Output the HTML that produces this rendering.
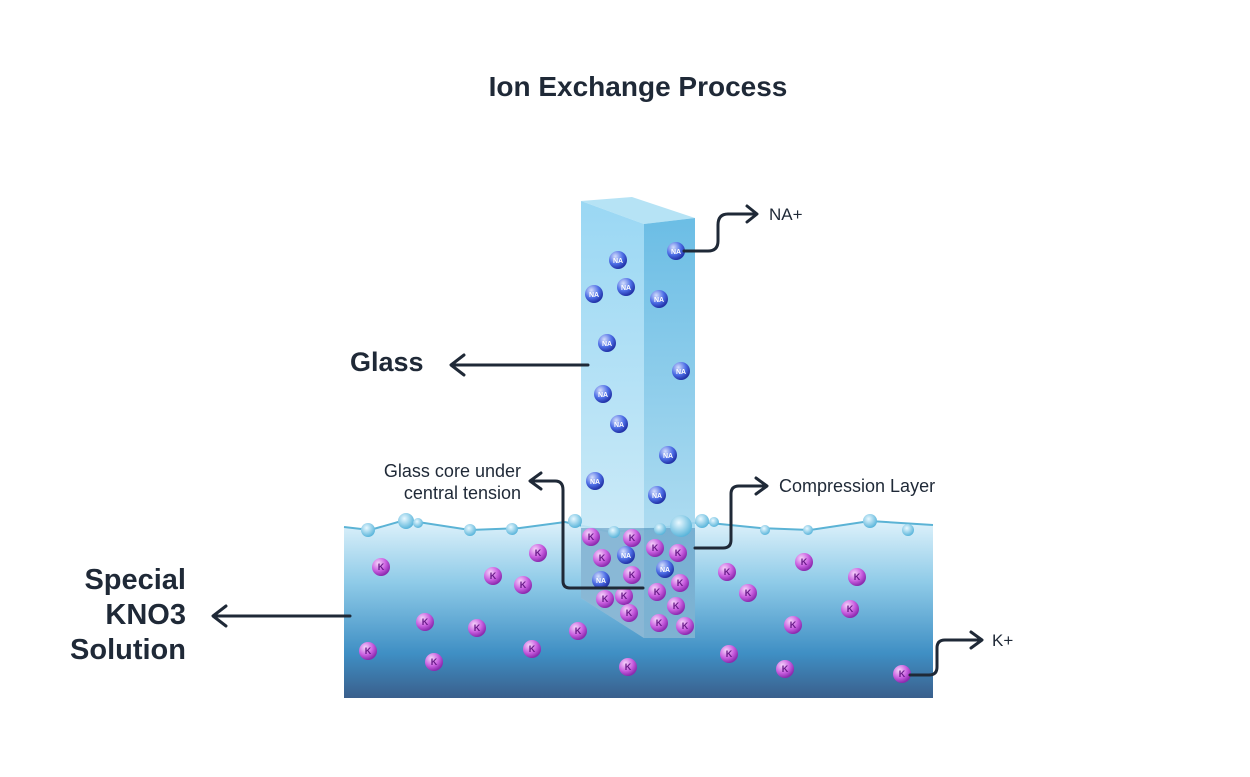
<!DOCTYPE html>
<html><head><meta charset="utf-8"><style>
html,body{margin:0;padding:0;background:#fff;}
body{width:1250px;height:772px;overflow:hidden;font-family:"Liberation Sans",sans-serif;}
</style></head><body>
<svg width="1250" height="772" viewBox="0 0 1250 772" xmlns="http://www.w3.org/2000/svg">
<defs>
<linearGradient id="liq" x1="0" y1="0" x2="0" y2="1">
<stop offset="0" stop-color="#dff2fb"/><stop offset="0.35" stop-color="#8fcbe8"/><stop offset="0.75" stop-color="#3f8fc4"/><stop offset="1" stop-color="#3a5f8c"/></linearGradient>
<linearGradient id="front" x1="0" y1="0" x2="0" y2="1">
<stop offset="0" stop-color="#8fd3f2"/><stop offset="1" stop-color="#d6eef8"/></linearGradient>
<linearGradient id="side" x1="0" y1="0" x2="0" y2="1">
<stop offset="0" stop-color="#5bb6e2"/><stop offset="1" stop-color="#bde3f3"/></linearGradient>
<radialGradient id="kb" cx="0.35" cy="0.3" r="0.7"><stop offset="0" stop-color="#f6d4fb"/><stop offset="0.6" stop-color="#c95fe0"/><stop offset="1" stop-color="#8c2aaf"/></radialGradient>
<radialGradient id="nb" cx="0.35" cy="0.3" r="0.7"><stop offset="0" stop-color="#d4defc"/><stop offset="0.6" stop-color="#4d6ee6"/><stop offset="1" stop-color="#2233a8"/></radialGradient>
<radialGradient id="bub" cx="0.4" cy="0.35" r="0.7"><stop offset="0" stop-color="#e8f8ff"/><stop offset="1" stop-color="#4fb0d8"/></radialGradient>
</defs>
<text x="638" y="96" text-anchor="middle" font-size="28" font-weight="bold" fill="#1f2937">Ion Exchange Process</text>
<path d="M344 527 L370 530 L405 520 L470 530 L520 528 L565 522 L610 532 L660 528 L700 522 L760 528 L810 530 L870 521 L933 525 L933 698 L344 698 Z" fill="url(#liq)"/>
<path d="M344 527 L370 530 L405 520 L470 530 L520 528 L565 522 L610 532 L660 528 L700 522 L760 528 L810 530 L870 521 L933 525" fill="none" stroke="#5bb3d5" stroke-width="2"/>
<polygon points="581,201 632,197 695,218 644,224" fill="#b6e3f5"/>
<polygon points="581,201 644,224 644,638 581,598" fill="url(#front)" opacity="0.9"/>
<polygon points="644,224 695,218 695,638 644,638" fill="url(#side)" opacity="0.9"/>
<polygon points="581,528 695,528 695,638 644,638 581,598" fill="#3d7fb0" opacity="0.45"/>
<g fill="url(#bub)">
<circle cx="368" cy="530" r="7"/><circle cx="406" cy="521" r="8"/><circle cx="418" cy="523" r="5"/><circle cx="470" cy="530" r="6"/><circle cx="512" cy="529" r="6"/><circle cx="575" cy="521" r="7"/><circle cx="614" cy="532" r="6"/><circle cx="660" cy="529" r="6"/><circle cx="681" cy="526" r="11"/><circle cx="702" cy="521" r="7"/><circle cx="714" cy="522" r="5"/><circle cx="765" cy="530" r="5"/><circle cx="808" cy="530" r="5"/><circle cx="870" cy="521" r="7"/><circle cx="908" cy="530" r="6"/>
</g>
<g font-size="7" font-weight="bold" text-anchor="middle" fill="#fff">
<g>
<circle cx="676" cy="251" r="9" fill="url(#nb)"/><circle cx="618" cy="260" r="9" fill="url(#nb)"/><circle cx="594" cy="294" r="9" fill="url(#nb)"/><circle cx="626" cy="287" r="9" fill="url(#nb)"/><circle cx="659" cy="299" r="9" fill="url(#nb)"/><circle cx="607" cy="343" r="9" fill="url(#nb)"/><circle cx="681" cy="371" r="9" fill="url(#nb)"/><circle cx="603" cy="394" r="9" fill="url(#nb)"/><circle cx="619" cy="424" r="9" fill="url(#nb)"/><circle cx="668" cy="455" r="9" fill="url(#nb)"/><circle cx="595" cy="481" r="9" fill="url(#nb)"/><circle cx="657" cy="495" r="9" fill="url(#nb)"/><circle cx="626" cy="555" r="9" fill="url(#nb)"/><circle cx="665" cy="569" r="9" fill="url(#nb)"/><circle cx="601" cy="580" r="9" fill="url(#nb)"/>
</g>
<text x="676" y="254">NA</text><text x="618" y="263">NA</text><text x="594" y="297">NA</text><text x="626" y="290">NA</text><text x="659" y="302">NA</text><text x="607" y="346">NA</text><text x="681" y="374">NA</text><text x="603" y="397">NA</text><text x="619" y="427">NA</text><text x="668" y="458">NA</text><text x="595" y="484">NA</text><text x="657" y="498">NA</text><text x="626" y="558">NA</text><text x="665" y="572">NA</text><text x="601" y="583">NA</text>
</g>
<g font-size="9" font-weight="bold" text-anchor="middle" fill="#6a1a8a">
<g fill="url(#kb)">
<circle cx="381" cy="567" r="9"/><circle cx="538" cy="553" r="9"/><circle cx="493" cy="576" r="9"/><circle cx="523" cy="585" r="9"/><circle cx="425" cy="622" r="9"/><circle cx="477" cy="628" r="9"/><circle cx="578" cy="631" r="9"/><circle cx="368" cy="651" r="9"/><circle cx="434" cy="662" r="9"/><circle cx="532" cy="649" r="9"/><circle cx="628" cy="667" r="9"/><circle cx="729" cy="654" r="9"/><circle cx="785" cy="669" r="9"/><circle cx="727" cy="572" r="9"/><circle cx="748" cy="593" r="9"/><circle cx="804" cy="562" r="9"/><circle cx="857" cy="577" r="9"/><circle cx="850" cy="609" r="9"/><circle cx="793" cy="625" r="9"/><circle cx="902" cy="674" r="9"/>
<circle cx="591" cy="537" r="9"/><circle cx="632" cy="538" r="9"/><circle cx="655" cy="548" r="9"/><circle cx="678" cy="553" r="9"/><circle cx="602" cy="558" r="9"/><circle cx="632" cy="575" r="9"/><circle cx="680" cy="583" r="9"/><circle cx="605" cy="599" r="9"/><circle cx="624" cy="596" r="9"/><circle cx="657" cy="592" r="9"/><circle cx="676" cy="606" r="9"/><circle cx="629" cy="613" r="9"/><circle cx="659" cy="623" r="9"/><circle cx="685" cy="626" r="9"/>
</g>
<text x="381" y="570">K</text><text x="538" y="556">K</text><text x="493" y="579">K</text><text x="523" y="588">K</text><text x="425" y="625">K</text><text x="477" y="631">K</text><text x="578" y="634">K</text><text x="368" y="654">K</text><text x="434" y="665">K</text><text x="532" y="652">K</text><text x="628" y="670">K</text><text x="729" y="657">K</text><text x="785" y="672">K</text><text x="727" y="575">K</text><text x="748" y="596">K</text><text x="804" y="565">K</text><text x="857" y="580">K</text><text x="850" y="612">K</text><text x="793" y="628">K</text><text x="902" y="677">K</text>
<text x="591" y="540">K</text><text x="632" y="541">K</text><text x="655" y="551">K</text><text x="678" y="556">K</text><text x="602" y="561">K</text><text x="632" y="578">K</text><text x="680" y="586">K</text><text x="605" y="602">K</text><text x="624" y="599">K</text><text x="657" y="595">K</text><text x="676" y="609">K</text><text x="629" y="616">K</text><text x="659" y="626">K</text><text x="685" y="629">K</text>
</g>
<g fill="none" stroke="#1f2937" stroke-width="3" stroke-linecap="round" stroke-linejoin="round">
<path d="M684 251 H708 Q718 251 718 241 V225 Q718 214 728 214 H756"/><path d="M747 206 L757 214 L747 222"/>
<path d="M588 365 H452"/><path d="M464 355 L451 365 L464 375"/>
<path d="M643 588 H570 Q563 588 563 581 V490 Q563 481 555 481 H531"/><path d="M541 473 L530 481 L541 489"/>
<path d="M695 548 H723 Q731 548 731 540 V494 Q731 486 739 486 H766"/><path d="M756 478 L767 486 L756 494"/>
<path d="M350 616 H214"/><path d="M226 606 L213 616 L226 626"/>
<path d="M910 675 H929 Q937 675 937 667 V648 Q937 640 945 640 H981"/><path d="M971 632 L982 640 L971 648"/>
</g>
<g fill="#1f2937">
<text x="769" y="220" font-size="17">NA+</text>
<text x="350" y="371" font-size="27" font-weight="bold">Glass</text>
<text x="521" y="477" font-size="18" text-anchor="end">Glass core under</text>
<text x="521" y="499" font-size="18" text-anchor="end">central tension</text>
<text x="779" y="492" font-size="18">Compression Layer</text>
<text x="186" y="589" font-size="29" font-weight="bold" text-anchor="end">Special</text>
<text x="186" y="624" font-size="29" font-weight="bold" text-anchor="end">KNO3</text>
<text x="186" y="659" font-size="29" font-weight="bold" text-anchor="end">Solution</text>
<text x="992" y="646" font-size="17">K+</text>
</g>
</svg>
</body></html>
